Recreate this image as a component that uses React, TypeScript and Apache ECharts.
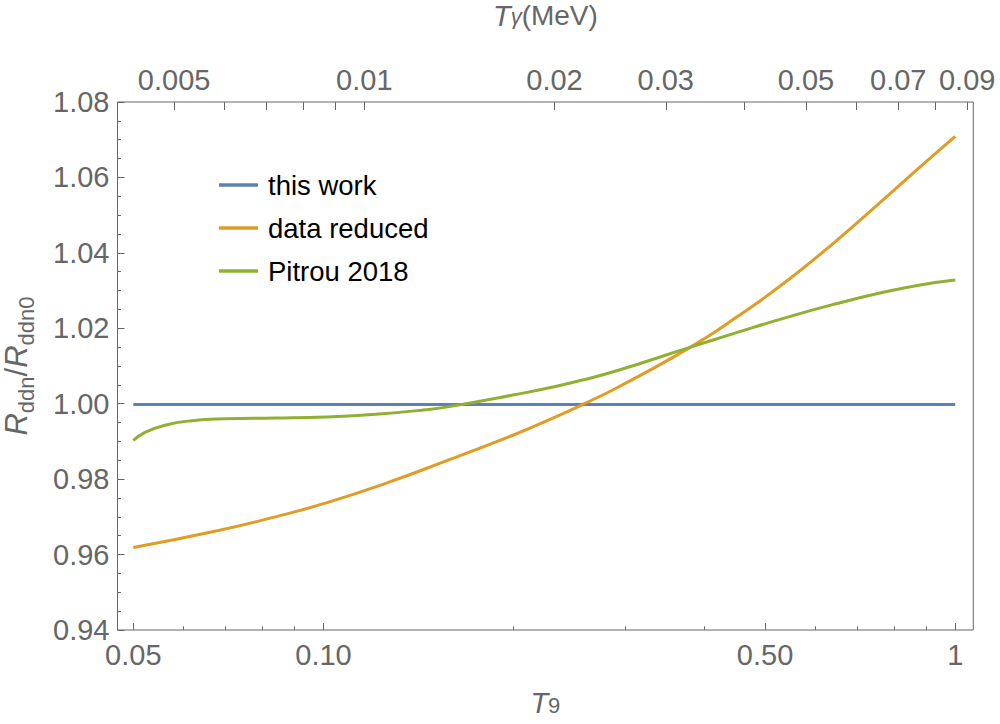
import React, { useEffect, useRef } from "react";
import * as echarts from "echarts";

// T_gamma (MeV) = K * T9
const K_MEV_PER_T9 = 0.08617;
const X_MIN = 0.0472;
const X_MAX = 1.068;

const bottomMajorTicks = [0.05, 0.1, 0.5, 1];
const bottomMajorLabels = ["0.05", "0.10", "0.50", "1"];
const bottomMinorTicks = [0.06, 0.07, 0.08, 0.09, 0.2, 0.3, 0.4, 0.6, 0.7, 0.8, 0.9];
const topTicks = [0.005, 0.006, 0.007, 0.008, 0.009, 0.01, 0.02, 0.03, 0.04, 0.05, 0.06, 0.07, 0.08, 0.09];
const topLabelValues = [0.005, 0.01, 0.02, 0.03, 0.05, 0.07, 0.09];
const topLabelTexts = ["0.005", "0.01", "0.02", "0.03", "0.05", "0.07", "0.09"];

const seriesNames = ["this work", "data reduced", "Pitrou 2018"];
const seriesColors = ["#5E81B5", "#E19C24", "#8FB032"];

const thisWorkT9 = [0.05, 1.0];
const thisWorkRatio = [0.9998, 0.9998];

const reducedT9 = [0.05, 0.0679, 0.0866, 0.1, 0.1245, 0.159, 0.2025, 0.2288, 0.2587, 0.292, 0.381, 0.452, 0.536, 0.644, 0.772, 0.88, 1.0];
const reducedRatio = [0.9619, 0.9663, 0.9706, 0.9735, 0.9787, 0.9853, 0.9921, 0.9959, 1.0, 1.0043, 1.015, 1.0231, 1.032, 1.0428, 1.0543, 1.0628, 1.0709];

const pitrouT9 = [0.05, 0.0522, 0.0561, 0.0619, 0.0698, 0.0838, 0.1008, 0.1209, 0.1449, 0.159, 0.2025, 0.2288, 0.259, 0.292, 0.381, 0.452, 0.536, 0.644, 0.772, 0.88, 1.0];
const pitrouRatio = [0.9903, 0.9924, 0.9943, 0.9955, 0.996, 0.9962, 0.9965, 0.9972, 0.9984, 0.9993, 1.0025, 1.0043, 1.0064, 1.0088, 1.015, 1.0189, 1.0227, 1.0264, 1.0296, 1.0315, 1.0328];

const FONT = "'Liberation Sans', Arial, Helvetica, sans-serif";
const GRAY = "#666666";

function pickLabel(v: number, values: number[], texts: string[]): string {
  for (let i = 0; i < values.length; i++) {
    if (Math.abs(v - values[i]) / values[i] < 1e-4) return texts[i];
  }
  return "";
}

function zip(xs: number[], ys: number[]) {
  return xs.map((x, i) => [x, ys[i]]);
}

export default function App() {
  const ref = useRef<HTMLDivElement>(null);

  useEffect(() => {
    if (!ref.current) return;
    const chart = echarts.init(ref.current, undefined, { renderer: "svg" });

    const labelStyle = { fontFamily: FONT, fontSize: 29, color: GRAY };

    const option: any = {
      animation: false,
      backgroundColor: "#ffffff",
      grid: {
        left: 117.5,
        right: 26.7,
        top: 102,
        bottom: 94,
        show: true,
        borderColor: GRAY,
        borderWidth: 1,
        backgroundColor: "transparent",
        containLabel: false,
        outerBoundsMode: "none",
      },
      legend: {
        orient: "vertical",
        left: 214,
        top: 166,
        icon: "rect",
        itemWidth: 39,
        itemHeight: 3.5,
        itemGap: 15,
        data: seriesNames,
        textStyle: { fontFamily: FONT, fontSize: 27.5, color: "#000000", padding: [0, 0, 0, 5] },
      },
      xAxis: [
        {
          type: "log",
          position: "bottom",
          min: X_MIN,
          max: X_MAX,
          axisLine: { show: false },
          splitLine: { show: false },
          axisTick: { show: true, inside: true, length: 7, customValues: bottomMajorTicks, lineStyle: { color: GRAY, width: 1 } },
          axisLabel: {
            ...labelStyle,
            margin: 10,
            customValues: bottomMajorTicks,
            formatter: (v: number) => pickLabel(v, bottomMajorTicks, bottomMajorLabels),
          },
          name: "{t|T}{s|9}",
          nameLocation: "middle",
          nameGap: 58,
          nameTextStyle: {
            rich: {
              t: { fontFamily: FONT, fontSize: 29, fontStyle: "italic", color: GRAY, lineHeight: 28, verticalAlign: "top" },
              s: { fontFamily: FONT, fontSize: 22, color: GRAY, lineHeight: 22, padding: [13, 0, 0, 0], verticalAlign: "bottom" },
            },
          },
        },
        {
          type: "log",
          position: "bottom",
          min: X_MIN,
          max: X_MAX,
          axisLine: { show: false },
          splitLine: { show: false },
          axisTick: { show: true, inside: true, length: 3.7, customValues: bottomMinorTicks, lineStyle: { color: GRAY, width: 1 } },
          axisLabel: { show: false },
        },
        {
          type: "log",
          position: "top",
          min: X_MIN * K_MEV_PER_T9,
          max: X_MAX * K_MEV_PER_T9,
          axisLine: { show: false },
          splitLine: { show: false },
          axisTick: { show: true, inside: true, length: 8, customValues: topTicks, lineStyle: { color: GRAY, width: 1 } },
          axisLabel: {
            ...labelStyle,
            margin: 8,
            customValues: topLabelValues,
            formatter: (v: number) => pickLabel(v, topLabelValues, topLabelTexts),
          },
          name: "{t|T}{s|γ}{m|(MeV)}",
          nameLocation: "middle",
          nameGap: 75,
          nameTextStyle: {
            rich: {
              t: { fontFamily: FONT, fontSize: 29, fontStyle: "italic", color: GRAY, lineHeight: 26, verticalAlign: "top" },
              s: { fontFamily: FONT, fontSize: 22, fontStyle: "italic", color: GRAY, lineHeight: 19, padding: [15, 0, 0, 0], verticalAlign: "bottom" },
              m: { fontFamily: FONT, fontSize: 28, color: GRAY, lineHeight: 26, verticalAlign: "top" },
            },
          },
        },
      ],
      yAxis: [
        {
          type: "value",
          min: 0.94,
          max: 1.08,
          interval: 0.02,
          axisLine: { show: false },
          splitLine: { show: false },
          axisTick: { show: true, inside: true, length: 7, lineStyle: { color: GRAY, width: 1 } },
          minorTick: { show: true, splitNumber: 4, length: 3.5, lineStyle: { color: GRAY, width: 1 } },
          axisLabel: { ...labelStyle, margin: 8, formatter: (v: number) => v.toFixed(2) },
          name: "{r|R}{s|ddn}{n|/}{r|R}{s|ddn0}",
          nameLocation: "middle",
          nameRotate: 90,
          nameGap: 80,
          nameTextStyle: {
            rich: {
              r: { fontFamily: FONT, fontSize: 31, fontStyle: "italic", color: GRAY, lineHeight: 42, verticalAlign: "middle" },
              n: { fontFamily: FONT, fontSize: 31, color: GRAY, lineHeight: 42, verticalAlign: "middle" },
              s: { fontFamily: FONT, fontSize: 22, color: GRAY, lineHeight: 22, verticalAlign: "bottom" },
            },
          },
        },
      ],
      series: [
        { name: seriesNames[0], data: zip(thisWorkT9, thisWorkRatio) },
        { name: seriesNames[1], data: zip(reducedT9, reducedRatio) },
        { name: seriesNames[2], data: zip(pitrouT9, pitrouRatio) },
      ].map((s, i) => ({
        type: "line",
        name: s.name,
        data: s.data,
        xAxisIndex: 0,
        yAxisIndex: 0,
        smooth: 0.5,
        symbol: "none",
        color: seriesColors[i],
        lineStyle: { color: seriesColors[i], width: 3 },
        z: 3,
      })),
    };

    chart.setOption(option);
    return () => chart.dispose();
  }, []);

  return (
    <div
      ref={ref}
      style={{ position: "fixed", left: 0, top: 0, width: 1000, height: 724, background: "#fff" }}
    />
  );
}
